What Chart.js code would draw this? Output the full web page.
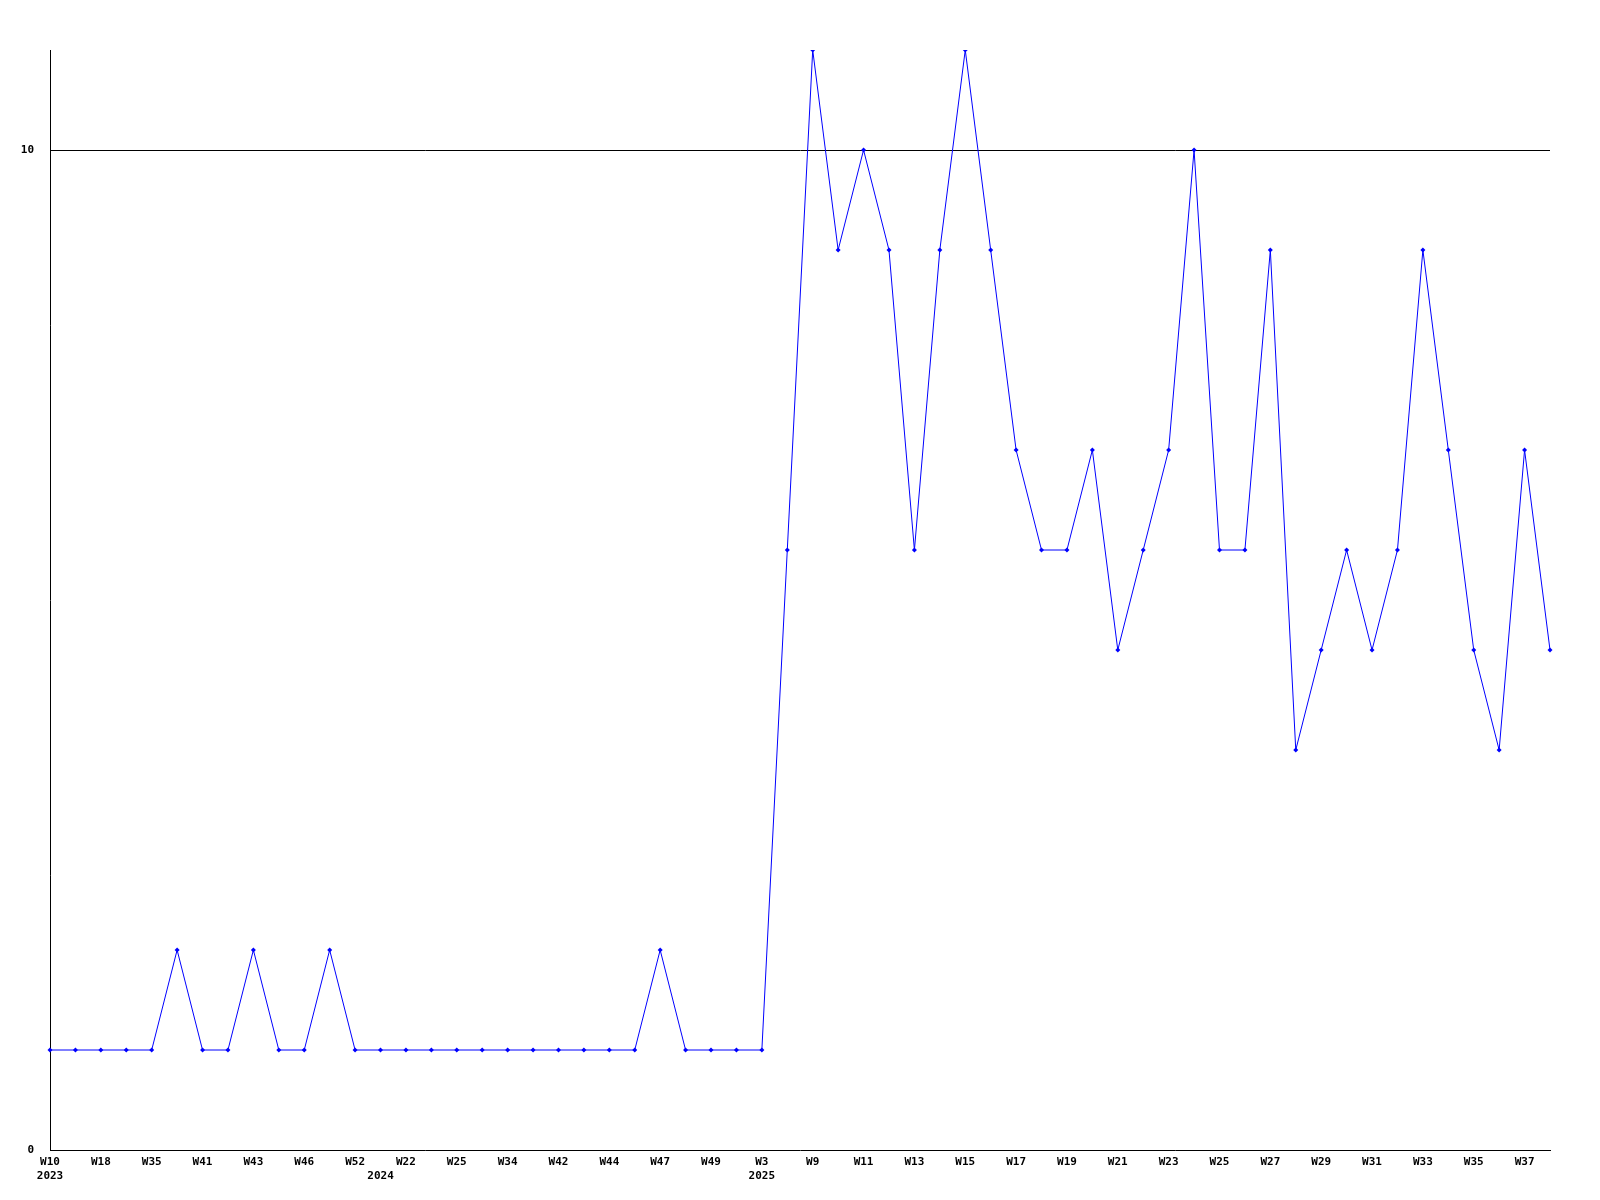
<!DOCTYPE html>
<html>
<head>
<meta charset="utf-8">
<script src="https://cdn.jsdelivr.net/npm/chart.js@4/dist/chart.umd.min.js"></script>
<style>
  body { margin: 0; background: #fff; }
  #wrap { width: 1600px; height: 1200px; }
</style>
</head>
<body>
<div id="wrap"><canvas id="weekly"></canvas></div>
<script>
// week labels (every other one is printed on the axis)
const weeks = [
  "W10", "W14", "W18", "W27", "W35", "W38", "W41", "W42", "W43", "W45",
  "W46", "W48", "W52", "W4", "W22", "W24", "W25", "W30", "W34", "W38",
  "W42", "W43", "W44", "W45", "W47", "W48", "W49", "W51", "W3", "W8",
  "W9", "W10", "W11", "W12", "W13", "W14", "W15", "W16", "W17", "W18",
  "W19", "W20", "W21", "W22", "W23", "W24", "W25", "W26", "W27", "W28",
  "W29", "W30", "W31", "W32", "W33", "W34", "W35", "W36", "W37", "W38"
];
const years = [
  2023, 2023, 2023, 2023, 2023, 2023, 2023, 2023, 2023, 2023,
  2023, 2023, 2023, 2024, 2024, 2024, 2024, 2024, 2024, 2024,
  2024, 2024, 2024, 2024, 2024, 2024, 2024, 2024, 2025, 2025,
  2025, 2025, 2025, 2025, 2025, 2025, 2025, 2025, 2025, 2025,
  2025, 2025, 2025, 2025, 2025, 2025, 2025, 2025, 2025, 2025,
  2025, 2025, 2025, 2025, 2025, 2025, 2025, 2025, 2025, 2025
];
const counts = [
  1, 1, 1, 1, 1, 2, 1, 1, 2, 1,
  1, 2, 1, 1, 1, 1, 1, 1, 1, 1,
  1, 1, 1, 1, 2, 1, 1, 1, 1, 6,
  11, 9, 10, 9, 6, 9, 11, 9, 7, 6,
  6, 7, 5, 6, 7, 10, 6, 6, 9, 4,
  5, 6, 5, 6, 9, 7, 5, 4, 7, 5
];
const yTicks = [0, 10];

const font = { family: "'DejaVu Sans Mono', monospace", size: 11, weight: "bold" };

new Chart(document.getElementById("weekly"), {
  type: "line",
  data: {
    labels: weeks,
    datasets: [
      {
        data: counts,
        borderColor: "#0000ff",
        backgroundColor: "#0000ff",
        borderWidth: 1,
        tension: 0,
        pointStyle: "rectRot",
        pointRadius: 2.5,
        pointBorderWidth: 0,
      },
    ],
  },
  options: {
    responsive: true,
    maintainAspectRatio: false,
    animation: false,
    layout: { padding: { top: 50, right: 50, left: 0, bottom: 0 } },
    plugins: { legend: { display: false }, tooltip: { enabled: false } },
    scales: {
      x: {
        offset: false,
        grid: { display: false, drawTicks: false },
        border: { color: "#000", width: 1 },
        afterFit: (s) => { s.height = 50; },
        ticks: {
          autoSkip: false,
          maxRotation: 0,
          minRotation: 0,
          padding: 6,
          color: "#000",
          font: font,
          callback: function (v, i) {
            const w = i % 2 === 0 ? weeks[i] : "";
            const newYear = i === 0 || years[i] !== years[i - 1];
            return newYear ? [w, String(years[i])] : w;
          },
        },
      },
      y: {
        min: 0,
        max: 11,
        afterBuildTicks: (s) => { s.ticks = yTicks.map((v) => ({ value: v })); },
        afterFit: (s) => { s.width = 50; },
        border: { color: "#000", width: 1 },
        grid: {
          drawTicks: false,
          color: (c) => (c.tick && c.tick.value === 10 ? "#000" : "rgba(0,0,0,0)"),
          lineWidth: 1,
        },
        ticks: { padding: 16, color: "#000", font: font },
      },
    },
  },
});
</script>
</body>
</html>
